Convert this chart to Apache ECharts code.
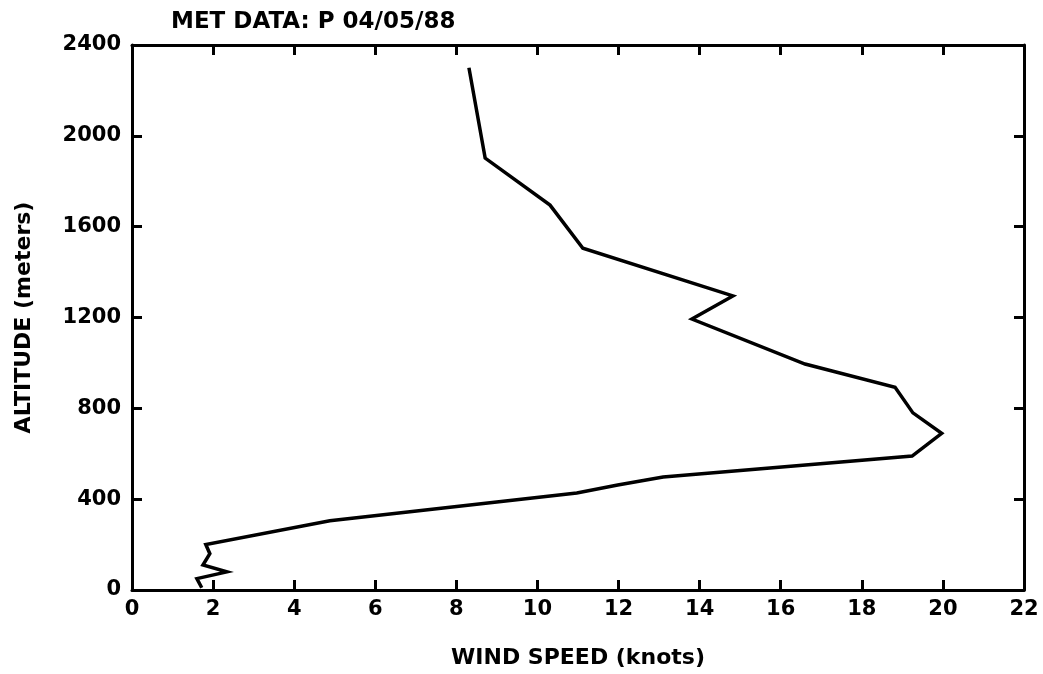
<!DOCTYPE html>
<html>
<head>
<meta charset="utf-8">
<script src="https://cdn.jsdelivr.net/npm/echarts@6/dist/echarts.min.js"></script>
<style>html,body{margin:0;padding:0;background:#fff}#c{width:1043px;height:674px}</style>
</head>
<body>
<div id="c"></div>
<script>
var windSpeed = [1.72, 1.6, 2.34, 1.75, 1.92, 1.82, 4.88, 10.97, 11.98, 13.1, 19.24, 19.97, 19.26, 18.82, 16.6, 13.81, 14.82, 11.12, 10.31, 8.71, 8.31];
var altitude  = [10, 50, 80, 110, 160, 200, 305, 427, 462, 498, 590, 690, 780, 893, 995, 1193, 1295, 1505, 1695, 1902, 2300];
var xTicks = [0, 2, 4, 6, 8, 10, 12, 14, 16, 18, 20, 22];
var yTicks = [0, 400, 800, 1200, 1600, 2000, 2400];
var titleText = 'MET DATA: P 04/05/88';
var xName = 'WIND SPEED (knots)';
var yName = 'ALTITUDE (meters)';

var pts = windSpeed.map(function (v, i) { return [v, altitude[i]]; });
var font = 'DejaVu Sans';
var chart = echarts.init(document.getElementById('c'), null, {renderer: 'canvas'});
var axisLine = {show: true, onZero: false, lineStyle: {color: '#000', width: 3}};
var tick = {show: true, inside: true, length: 10, lineStyle: {color: '#000', width: 3}};
var lbl = {fontFamily: font, fontWeight: 'bold', fontSize: 21, color: '#000',
  formatter: function (v) { return String(v); }};
var nameStyle = {fontFamily: font, fontWeight: 'bold', fontSize: 22, color: '#000'};
chart.setOption({
  backgroundColor: '#fff',
  animation: false,
  title: {text: titleText, left: 166, top: 6,
    textStyle: {fontFamily: font, fontWeight: 'bold', fontSize: 23, color: '#000'}},
  grid: {left: 132, right: 19, top: 45, bottom: 84},
  xAxis: [{
    type: 'value', min: 0, max: 22, interval: 2, position: 'bottom',
    axisLine: axisLine, axisTick: tick, splitLine: {show: false},
    axisLabel: Object.assign({margin: 9}, lbl),
    name: xName, nameLocation: 'middle', nameGap: 57,
    nameTextStyle: nameStyle
  }, {
    type: 'value', min: 0, max: 22, interval: 2, position: 'top',
    axisLine: axisLine, axisTick: tick, splitLine: {show: false},
    axisLabel: {show: false}
  }],
  yAxis: [{
    type: 'value', min: 0, max: 2400, interval: 400, position: 'left',
    axisLine: axisLine, axisTick: tick, splitLine: {show: false},
    axisLabel: Object.assign({margin: 11}, lbl),
    name: yName, nameLocation: 'middle', nameGap: 97, nameRotate: 90,
    nameTextStyle: nameStyle
  }, {
    type: 'value', min: 0, max: 2400, interval: 400, position: 'right',
    axisLine: axisLine, axisTick: tick, splitLine: {show: false},
    axisLabel: {show: false}
  }],
  series: [{
    type: 'line', data: pts, xAxisIndex: 0, yAxisIndex: 0,
    showSymbol: false, symbol: 'none',
    lineStyle: {color: '#000', width: 3.5, join: 'miter'}
  }]
});
</script>
</body>
</html>
